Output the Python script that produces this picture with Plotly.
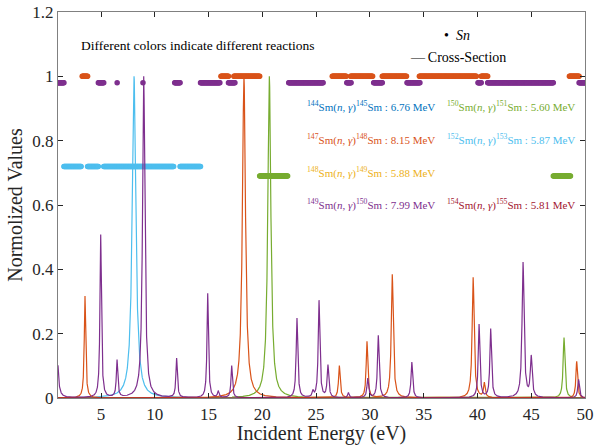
import numpy as np
import plotly.graph_objects as go

# ---------------- data ----------------
energy_min, energy_max = 1.0, 50.0
x_ticks = [5, 10, 15, 20, 25, 30, 35, 40, 45, 50]
y_ticks = [0, 0.2, 0.4, 0.6, 0.8, 1.0, 1.2]
y_tick_labels = ["0", "0.2", "0.4", "0.6", "0.8", "1", "1.2"]

reactions = ["144Sm", "147Sm", "148Sm", "149Sm", "150Sm", "152Sm", "154Sm"]
reaction_labels = [
    ("144", "145", "6.76"), ("147", "148", "8.15"), ("148", "149", "5.88"),
    ("149", "150", "7.99"), ("150", "151", "5.60"), ("152", "153", "5.87"),
    ("154", "155", "5.81"),
]
colors = ["#0072BD", "#D95319", "#EDB120", "#7E2F8E", "#77AC30", "#4DBEEE", "#A2142F"]

# resonance peaks: centres (eV), normalised heights, half widths (eV)
peak_centres = {
    "144Sm": [], "148Sm": [], "154Sm": [],
    "147Sm": [3.51, 18.29, 27.16, 29.73, 32.08, 39.6, 40.64, 49.23],
    "149Sm": [0.85, 4.97, 6.49, 8.97, 12.03, 14.92, 15.9, 17.15, 23.22, 24.7,
              25.27, 26.1, 28.0, 29.8, 30.78, 33.9, 40.15, 41.23, 44.24, 45.0, 49.4],
    "150Sm": [20.65, 48.05],
    "152Sm": [8.07],
}
peak_heights = {
    "144Sm": [], "148Sm": [], "154Sm": [],
    "147Sm": [0.317, 1.0, 0.1, 0.175, 0.384, 0.375, 0.045, 0.114],
    "149Sm": [0.33, 0.507, 0.115, 1.0, 0.122, 0.325, 0.02, 0.1, 0.248, 0.018,
              0.302, 0.1, 0.016, 0.06, 0.194, 0.111, 0.228, 0.214, 0.42, 0.125, 0.058],
    "150Sm": [1.0, 0.188],
    "152Sm": [1.0],
}
peak_widths = {
    "144Sm": [], "148Sm": [], "154Sm": [],
    "147Sm": [0.08, 0.17, 0.09, 0.09, 0.11, 0.11, 0.09, 0.09],
    "149Sm": [0.1, 0.08, 0.08, 0.13, 0.08, 0.08, 0.08, 0.08, 0.09, 0.08,
              0.09, 0.09, 0.08, 0.09, 0.09, 0.09, 0.09, 0.09, 0.11, 0.1, 0.09],
    "150Sm": [0.17, 0.1],
    "152Sm": [0.2],
}

# Sn marker bands: level (normalised) and energy intervals (eV)
sn_levels = {"147Sm": 1.0, "149Sm": 0.98, "152Sm": 0.72, "150Sm": 0.69}
sn_intervals = {
    "147Sm": [(3.25, 3.75), (16.15, 16.85), (17.35, 19.75), (26.5, 27.8), (28.2, 30.25),
              (31.15, 33.4), (34.6, 39.9), (40.35, 40.95), (48.55, 49.45)],
    "149Sm": [(1.0, 1.55), (4.75, 5.25), (6.5, 6.5), (8.9, 8.9), (11.85, 12.35),
              (14.25, 16.05), (16.85, 17.45), (22.45, 25.65), (27.85, 28.25), (30.35, 31.15),
              (33.45, 34.65), (40.05, 40.35), (40.95, 47.05), (49.45, 50.0)],
    "152Sm": [(1.55, 3.15), (3.75, 4.75), (5.25, 11.75), (12.35, 14.25)],
    "150Sm": [(19.75, 22.35), (47.05, 48.65)],
}
sn_step = 0.05

# ---------------- figure ----------------
serif = "Liberation Serif"
fig = go.Figure()
col = dict(zip(reactions, colors))

# Sn markers
for r in ["147Sm", "149Sm", "152Sm", "150Sm"]:
    xs = []
    for a, b in sn_intervals[r]:
        n = max(1, int(round((b - a) / sn_step)) + 1)
        xs.extend(np.linspace(a, b, n).tolist())
    fig.add_trace(go.Scatter(
        x=xs, y=[sn_levels[r]] * len(xs), mode="markers",
        marker=dict(color=col[r], size=5.5, line=dict(width=0)),
        showlegend=False, hoverinfo="skip"))

# Cross-section curves
E = np.arange(energy_min, energy_max + 0.0001, 0.005)
for r in ["144Sm", "148Sm", "152Sm", "150Sm", "147Sm", "149Sm", "154Sm"]:
    y = np.zeros_like(E)
    for c, h, w in zip(peak_centres[r], peak_heights[r], peak_widths[r]):
        y += h / (1 + ((E - c) / w) ** 2)
    fig.add_trace(go.Scatter(
        x=E, y=y, mode="lines", line=dict(color=col[r], width=1.2),
        showlegend=False, hoverinfo="skip"))

annotations = []
# reaction labels
positions = [(0.469, 0.905), (0.469, 0.805), (0.469, 0.702), (0.469, 0.603),
             (0.735, 0.905), (0.735, 0.805), (0.735, 0.603)]
for (a, b, q), c, (px, py) in zip(reaction_labels, colors, positions):
    txt = (f"<sup>{a}</sup>Sm(<i>n</i>, <i>γ</i>)<sup>{b}</sup>Sm : {q} MeV")
    annotations.append(dict(x=px, y=py, xref="paper", yref="y", text=txt,
                            showarrow=False, xanchor="left", yanchor="middle",
                            font=dict(family=serif, size=11, color=c)))
annotations.append(dict(x=0.040, y=1.097, xref="paper", yref="y",
                        text="Different colors indicate different reactions",
                        showarrow=False, xanchor="left", yanchor="middle",
                        font=dict(family=serif, size=13.5, color="black")))
annotations.append(dict(x=0.728, y=1.127, xref="paper", yref="y",
                        text="•  <i>Sn</i>", showarrow=False, xanchor="left",
                        yanchor="middle", font=dict(family=serif, size=14, color="black")))
annotations.append(dict(x=0.665, y=1.06, xref="paper", yref="y",
                        text="—\u2009Cross-Section", showarrow=False, xanchor="left",
                        yanchor="middle", font=dict(family=serif, size=14, color="black")))

fig.update_layout(
    width=594, height=445,
    margin=dict(l=58, r=9, t=12, b=47, autoexpand=False),
    paper_bgcolor="white", plot_bgcolor="white",
    annotations=annotations,
    font=dict(family=serif, color="#262626"),
)
axis_common = dict(showgrid=False, zeroline=False, showline=True, mirror="ticks",
                   linecolor="#808080", linewidth=1.2, ticks="inside", ticklen=5,
                   tickcolor="#262626", automargin=False,
                   tickfont=dict(family=serif, size=17, color="#262626"))
fig.update_xaxes(range=[energy_min, energy_max], tickvals=x_ticks,
                 title=dict(text="Incident Energy (eV)", font=dict(family=serif, size=20),
                            standoff=2), **axis_common)
fig.update_yaxes(range=[0, 1.2], tickvals=y_ticks, ticktext=y_tick_labels,
                 title=dict(text="Normolized Values", font=dict(family=serif, size=20),
                            standoff=4), **axis_common)

fig.write_html("out.html")
